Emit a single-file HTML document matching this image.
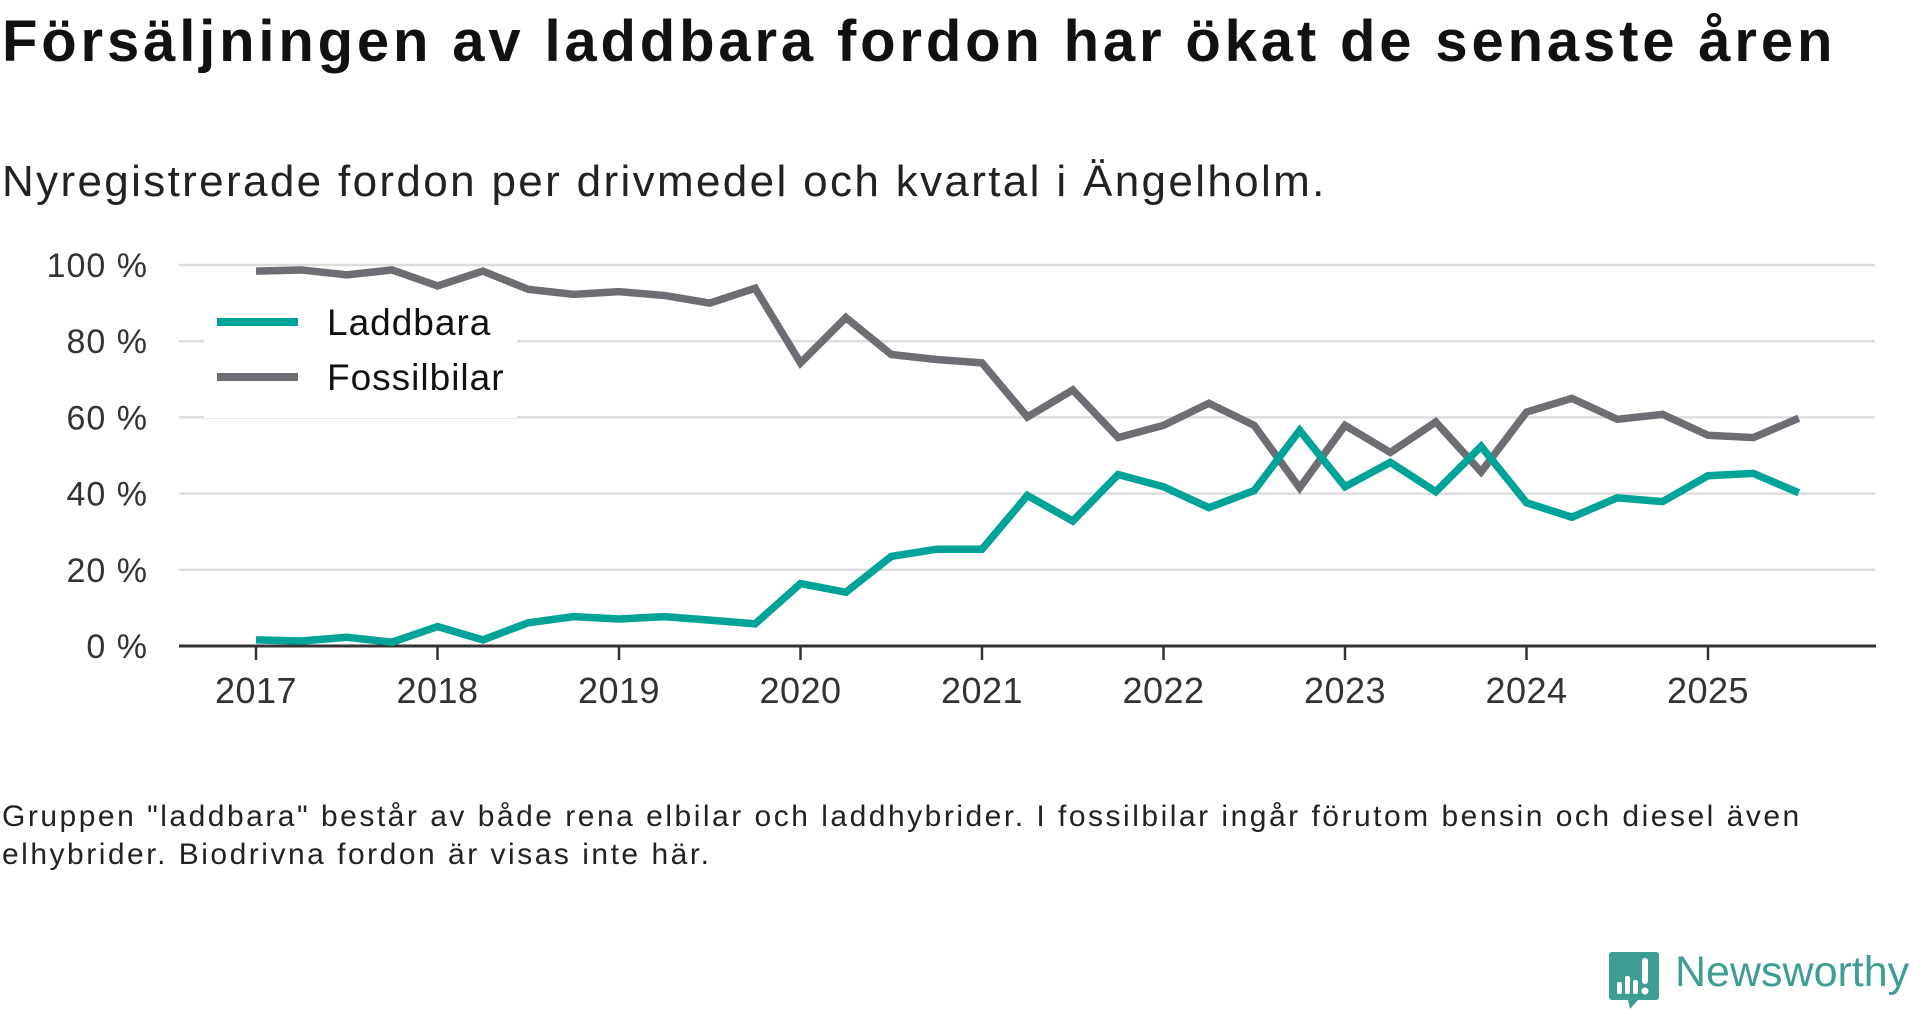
<!DOCTYPE html>
<html><head><meta charset="utf-8"><style>
body{margin:0;width:1920px;height:1010px;background:#fff;overflow:hidden;font-family:"Liberation Sans",sans-serif;color:#111}
#title{position:absolute;left:2px;top:8px;font-size:58px;font-weight:bold;letter-spacing:3.85px;white-space:nowrap}
#sub{position:absolute;left:2px;top:157px;font-size:44px;letter-spacing:2.35px;white-space:nowrap;color:#222}
#foot{position:absolute;left:2px;top:798px;font-size:30px;letter-spacing:2.5px;line-height:38px;color:#222;width:1830px}
#logo{position:absolute;left:1608px;top:950px}
#logotext{position:absolute;left:1675px;top:948px;font-size:43px;color:#3f9e94}
</style></head><body>
<div id="title">Försäljningen av laddbara fordon har ökat de senaste åren</div>
<div id="sub">Nyregistrerade fordon per drivmedel och kvartal i Ängelholm.</div>
<svg id="chart" width="1920" height="760" style="position:absolute;left:0;top:0"></svg>
<div id="foot">Gruppen "laddbara" består av både rena elbilar och laddhybrider. I fossilbilar ingår förutom bensin och diesel även elhybrider. Biodrivna fordon är visas inte här.</div>
<svg id="logo" width="52" height="60" viewBox="0 0 52 60"><path d="M4 2h44a3 3 0 0 1 3 3v42a3 3 0 0 1-3 3H30l-8 9-2-9H4a3 3 0 0 1-3-3V5a3 3 0 0 1 3-3z" fill="#3f9e94"/><rect x="9" y="32" width="5" height="12" rx="2" fill="#fff"/><rect x="17" y="26" width="5" height="18" rx="2" fill="#fff"/><rect x="25" y="30" width="5" height="14" rx="2" fill="#fff"/><rect x="34" y="8" width="6" height="26" rx="3" fill="#fff"/><circle cx="37" cy="41" r="3.5" fill="#fff"/></svg>
<div id="logotext">Newsworthy</div>
<script>
const yTicks=[0,20,40,60,80,100];
const years=[2017,2018,2019,2020,2021,2022,2023,2024,2025];
const laddbara=[1.6,1.3,2.3,1,5.1,1.6,6.1,7.7,7.1,7.7,6.8,5.8,16.4,14.1,23.5,25.4,25.4,39.5,32.8,45,41.8,36.3,40.8,56.6,41.8,48.2,40.5,52.4,37.6,33.8,38.9,37.9,44.7,45.3,40.2];
const fossil=[98.4,98.7,97.4,98.7,94.5,98.4,93.6,92.3,93,92,90,93.9,74.3,86.2,76.5,75.2,74.3,60.1,67.2,54.7,57.9,63.7,57.9,41.5,57.9,50.8,58.8,45.7,61.4,65,59.5,60.8,55.3,54.7,59.8];
const NS='http://www.w3.org/2000/svg';
const svg=document.getElementById('chart');
const x0=256,perYear=181.5,yb=646,yt=265;
const X=q=>x0+q*perYear/4, Y=v=>yb-(v/100)*(yb-yt);
function mk(t,a,p){const e=document.createElementNS(NS,t);for(const k in a)e.setAttribute(k,a[k]);(p||svg).appendChild(e);return e;}
yTicks.forEach(v=>{
  if(v>0){const g=mk('line',{x1:179,x2:1875,y1:Y(v),y2:Y(v),stroke:'#ddd','stroke-width':2.5});
  
  }
  const t=mk('text',{x:148,y:Y(v)+12,'text-anchor':'end','font-size':34,'letter-spacing':1,fill:'#333','font-family':'Liberation Sans, sans-serif'});
  t.textContent=v+' %';
  
  
});
const lb=mk('rect',{x:204,y:292,width:313,height:126,fill:'#fff'});


const ax=mk('line',{x1:179,x2:1876,y1:yb,y2:yb,stroke:'#333','stroke-width':3});


years.forEach((yr,i)=>{
  const x=X(i*4);
  const tk=mk('line',{x1:x,x2:x,y1:yb,y2:yb+14,stroke:'#333','stroke-width':2.5});
  
  
  const t=mk('text',{x:x,y:703,'text-anchor':'middle','font-size':36,'letter-spacing':0.5,fill:'#333','font-family':'Liberation Sans, sans-serif'});
  t.textContent=yr;
  
  
});
function line(data,color,name){
  const p=mk('polyline',{points:data.map((v,i)=>X(i)+','+Y(v)).join(' '),fill:'none',stroke:color,'stroke-width':7.5,'stroke-linejoin':'miter'});
  
  
}
line(fossil,'#6e6d74','line-fossilbilar');
line(laddbara,'#00a398','line-laddbara');
[['Laddbara','#00a398',322],['Fossilbilar','#6e6d74',377]].forEach(([n,c,y])=>{
  const l=mk('line',{x1:217,x2:298,y1:y,y2:y,stroke:c,'stroke-width':8});
  
  
  const t=mk('text',{x:327,y:y+13,'font-size':37,'letter-spacing':1,fill:'#111','font-family':'Liberation Sans, sans-serif'});
  t.textContent=n;
  
  
});
</script>
</body></html>
